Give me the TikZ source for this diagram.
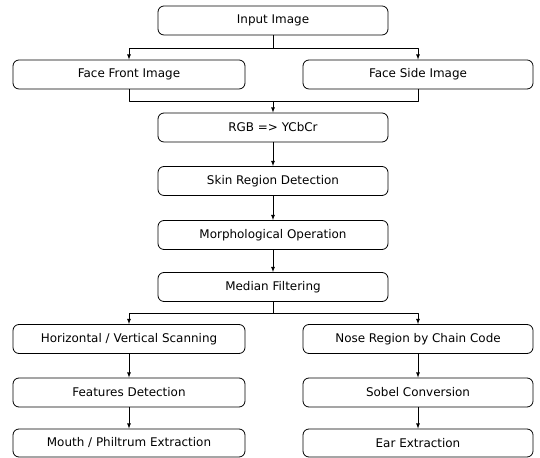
\documentclass[tikz,border=0pt]{standalone}
\usepackage{fontspec}
\setmainfont{DejaVu Sans}
\usepackage{tikz}
\usetikzlibrary{arrows,shapes}

\tikzset{
  stepbox/.style={draw, rounded corners=6bp, minimum width=230bp, minimum height=29bp,
    inner sep=0pt, font=\fontsize{12}{14}\selectfont},
}

\begin{document}
\begin{tikzpicture}[>=latex,line join=bevel,x=1bp,y=1bp]
  \pgfsetlinewidth{0.8bp}
  \useasboundingbox (0,0) rectangle (540,458);
%%
  % Node: input
  \node[stepbox] (input) at (273,437.5) {Input Image};
  % Node: front / side
  \node[stepbox, minimum width=232bp] (front) at (129,383.5) {Face Front Image};
  \node[stepbox] (side) at (418,383.5) {Face Side Image};
  % Node: rgb
  \node[stepbox] (rgb) at (273,330.5) {RGB => YCbCr};
  % Node: skin
  \node[stepbox] (skin) at (273,277) {Skin Region Detection};
  % Node: morph
  \node[stepbox] (morph) at (273,223) {Morphological Operation};
  % Node: median
  \node[stepbox] (median) at (273,171) {Median Filtering};
  % Node: left branch
  \node[stepbox, minimum width=232bp] (scan) at (129,119) {Horizontal / Vertical Scanning};
  \node[stepbox, minimum width=232bp] (feat) at (129,65.5) {Features Detection};
  \node[stepbox, minimum width=232bp, minimum height=28bp] (mouth) at (129,15) {Mouth / Philtrum Extraction};
  % Node: right branch
  \node[stepbox] (nose) at (418,119) {Nose Region by Chain Code};
  \node[stepbox] (sobel) at (418,65.5) {Sobel Conversion};
  \node[stepbox, minimum height=28bp] (ear) at (418,15) {Ear Extraction};
%
  \coordinate (split1) at (273,410);
  \coordinate (join1) at (273,357);
  \coordinate (split2) at (273,145);
  % Edge: input -> front, side
  \draw (input) -- (split1);
  \draw [->] (split1) -| (front);
  \draw [->] (split1) -| (side);
  % Edge: front, side -> rgb
  \draw (front) |- (join1);
  \draw (side) |- (join1);
  \draw [->] (join1) -- (rgb);
  % Edge: rgb -> skin -> morph -> median
  \draw [->] (rgb) -- (skin);
  \draw [->] (skin) -- (morph);
  \draw [->] (morph) -- (median);
  % Edge: median -> scan, nose
  \draw (median) -- (split2);
  \draw [->] (split2) -| (scan);
  \draw [->] (split2) -| (nose);
  % Edge: left and right columns
  \draw [->] (scan) -- (feat);
  \draw [->] (feat) -- (mouth);
  \draw [->] (nose) -- (sobel);
  \draw [->] (sobel) -- (ear);
%
\end{tikzpicture}
\end{document}
